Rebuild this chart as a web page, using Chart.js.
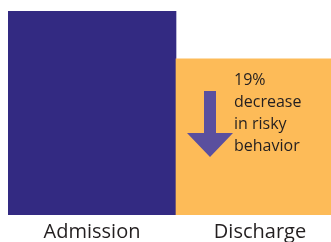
<!DOCTYPE html>
<html>
<head>
<meta charset="utf-8">
<script src="https://cdn.jsdelivr.net/npm/chart.js@4"></script>
<style>
    html, body { margin: 0; padding: 0; background: #fff; overflow: hidden; }
    #wrap { position: relative; width: 344px; height: 250px; }
</style>
</head>
<body>
<div id="wrap"><canvas id="myChart"></canvas></div>
<script>
const categories = ["Admission", "Discharge"];
const riskyBehavior = [100, 76.5];
const barColors = ["#332a82", "#fdbb58"];
const noteLines = ["19%", "decrease", "in risky", "behavior"];

// arrow + text drawn on top of the discharge bar
const notePlugin = {
    id: "note",
    afterDatasetsDraw(chart) {
        const ctx = chart.ctx;
        const bar = chart.getDatasetMeta(0).data[1];
        const cx = bar.x - 50;
        ctx.save();
        ctx.fillStyle = "#5a4f9e";
        ctx.beginPath();
        ctx.moveTo(cx - 6, 91);
        ctx.lineTo(cx + 6, 91);
        ctx.lineTo(cx + 6, 133);
        ctx.lineTo(cx + 23, 133);
        ctx.lineTo(cx, 157);
        ctx.lineTo(cx - 23, 133);
        ctx.lineTo(cx - 6, 133);
        ctx.closePath();
        ctx.fill();

        ctx.fillStyle = "#231f20";
        ctx.font = "16px 'Open Sans'";
        ctx.textBaseline = "alphabetic";
        noteLines.forEach((line, i) => {
            ctx.fillText(line, cx + 24, 85 + i * 22);
        });
        ctx.restore();
    },
};

const data = {
    labels: categories,
    datasets: [
        {
            data: riskyBehavior,
            backgroundColor: barColors,
            borderWidth: 0,
            barPercentage: 1,
            categoryPercentage: 1,
        },
    ],
};

const config = {
    type: "bar",
    data: data,
    options: {
        responsive: false,
        animation: false,
        layout: { padding: { left: 8, top: 11, right: 0, bottom: 0 } },
        plugins: {
            legend: { display: false },
            tooltip: { enabled: false },
        },
        scales: {
            x: {
                grid: { display: false },
                border: { display: false },
                ticks: {
                    color: "#231f20",
                    font: { family: "'Open Sans'", size: 20 },
                    padding: -3,
                },
                afterFit(scale) {
                    scale.height = 35;
                },
            },
            y: {
                display: false,
                min: 0,
                max: 100,
            },
        },
    },
    plugins: [notePlugin],
};

document.addEventListener("DOMContentLoaded", function () {
    const canvas = document.getElementById("myChart");
    canvas.width = 344;
    canvas.height = 250;
    const myChart = new Chart(canvas.getContext("2d"), config);
});
</script>
</body>
</html>
